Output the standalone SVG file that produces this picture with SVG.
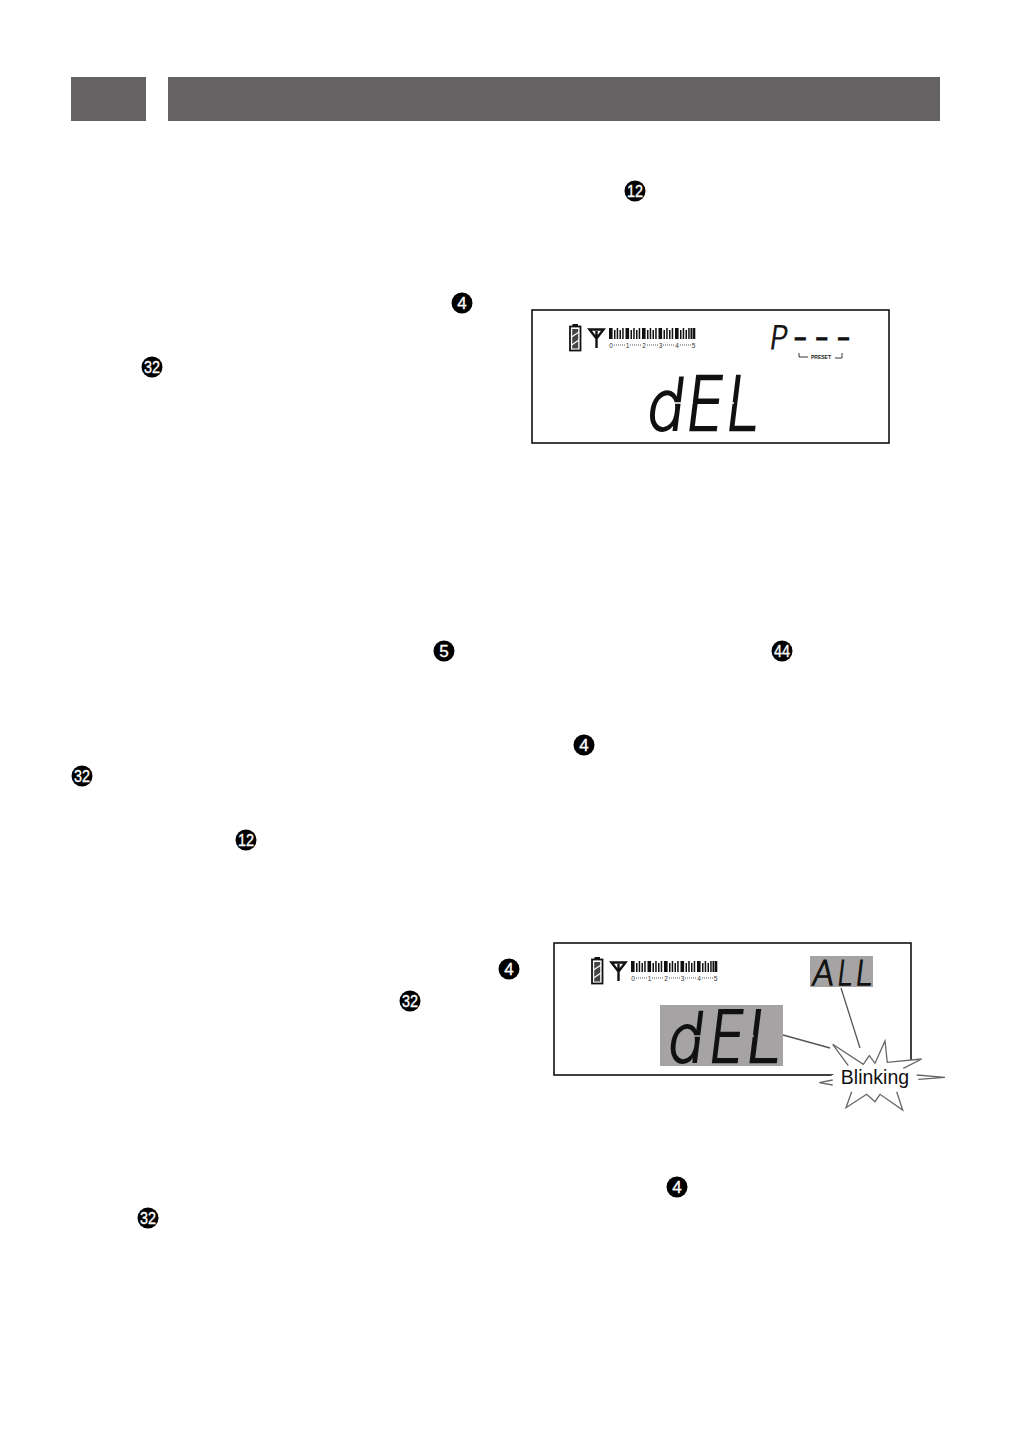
<svg xmlns="http://www.w3.org/2000/svg" width="1009" height="1440" viewBox="0 0 1009 1440">
<style>
.bar{fill:#656263}
.num circle{fill:#111}
.num text{font:17px "Liberation Sans",Arial,sans-serif;fill:#fff;stroke:#fff;stroke-width:.35;text-anchor:middle}
.frame{fill:#fff;stroke:#111;stroke-width:1.6}
.gray{fill:#a5a3a3}
.lcd{font-family:"DejaVu Sans",sans-serif;font-weight:200;fill:#111;stroke:#111}
.sc{font:6.5px "Liberation Sans",Arial,sans-serif;fill:#333;text-anchor:middle}
.dots{stroke:#333;stroke-width:.8;stroke-dasharray:1 1;fill:none}
.lead{stroke:#555;stroke-width:1.3;fill:none}
.burst{stroke:#666;stroke-width:1.3;fill:none}
</style>
<defs>
<circle id="c" r="10.5"/>
<g id="meter5"><rect x="0" width="3.600" height="11"/><rect x="5" y="2" width="1.500" height="9"/><rect x="7.700" width="1.500" height="11"/><rect x="10.500" y="2" width="1.500" height="9"/><rect x="13.200" width="1.500" height="11"/></g>
<g id="status">
<rect x="570" y="326.500" width="10.500" height="24" fill="#fff" stroke="#111" stroke-width="1.800"/>
<rect x="572.500" y="324" width="5.500" height="2" fill="#111"/>
<rect x="572.200" y="329" width="6" height="19.500" fill="#444"/>
<path d="M571.500 337l7.500-5M571.500 345l7.500-5" stroke="#fff" stroke-width="1.200"/>
<path d="M589.500 329.500h14l-7 9zM596.500 331v17" fill="#fff" stroke="#111" stroke-width="2.400"/>
<g fill="#111">
<use href="#meter5" x="609" y="328"/><use href="#meter5" x="625.500" y="328"/><use href="#meter5" x="642" y="328"/><use href="#meter5" x="658.500" y="328"/><use href="#meter5" x="675" y="328"/>
<rect x="690.500" y="328" width="1.500" height="11"/><rect x="692.500" y="328" width="2.800" height="11"/>
</g>
<path class="dots" d="M614 345h11M630 345h11M647 345h11M663 345h11M680 345h11"/>
<text class="sc" x="611" y="347.500">0</text><text class="sc" x="627.500" y="347.500">1</text><text class="sc" x="644" y="347.500">2</text><text class="sc" x="660.500" y="347.500">3</text><text class="sc" x="677" y="347.500">4</text><text class="sc" x="693.500" y="347.500">5</text>
</g>
</defs>

<g id="header"><rect class="bar" x="71" y="77" width="75" height="44"/><rect class="bar" x="168" y="77" width="772" height="44"/></g>

<g id="refs" class="num">
<g id="ref-12a" transform="translate(635,191)"><use href="#c"/><text y="6" textLength="16" lengthAdjust="spacingAndGlyphs">12</text></g>
<g id="ref-4a" transform="translate(462,303)"><use href="#c"/><text y="6">4</text></g>
<g id="ref-32a" transform="translate(152,367)"><use href="#c"/><text y="6" textLength="16" lengthAdjust="spacingAndGlyphs">32</text></g>
<g id="ref-5" transform="translate(444,651)"><use href="#c"/><text y="6">5</text></g>
<g id="ref-44" transform="translate(782,651)"><use href="#c"/><text y="6" textLength="16" lengthAdjust="spacingAndGlyphs">44</text></g>
<g id="ref-4b" transform="translate(584,745)"><use href="#c"/><text y="6">4</text></g>
<g id="ref-32b" transform="translate(82,776)"><use href="#c"/><text y="6" textLength="16" lengthAdjust="spacingAndGlyphs">32</text></g>
<g id="ref-12b" transform="translate(246,840)"><use href="#c"/><text y="6" textLength="16" lengthAdjust="spacingAndGlyphs">12</text></g>
<g id="ref-4c" transform="translate(509,969)"><use href="#c"/><text y="6">4</text></g>
<g id="ref-32c" transform="translate(410,1001)"><use href="#c"/><text y="6" textLength="16" lengthAdjust="spacingAndGlyphs">32</text></g>
<g id="ref-4d" transform="translate(677,1187)"><use href="#c"/><text y="6">4</text></g>
<g id="ref-32d" transform="translate(148,1218)"><use href="#c"/><text y="6" textLength="16" lengthAdjust="spacingAndGlyphs">32</text></g>
</g>

<g id="display-1">
<rect class="frame" x="532" y="310" width="357" height="133"/>
<use href="#status"/>
<text transform="translate(768,349) skewX(-8) scale(.95,1)" class="lcd" font-size="32" stroke-width="1.100">P</text>
<text transform="translate(793.500,346.500) scale(1.350,1)" x="0 16 32" font-family="Liberation Sans" font-size="30" fill="#111" stroke="#111" stroke-width="1">---</text>
<path d="M799 353v4h9M835 358h7v-5" fill="none" stroke="#222" stroke-width=".9"/>
<text x="821" y="359" font-family="Liberation Sans" font-size="5" font-weight="700" text-anchor="middle" fill="#222">PRESET</text>
<g font-size="74" class="lcd" stroke-width="2.400">
<text transform="translate(644,430) skewX(-7) scale(.84,.93)">d</text>
<text transform="translate(683,430) skewX(-7) scale(.82,1)">E</text>
<text transform="translate(723,430) skewX(-7) scale(.8,1)">L</text>
</g>
<path d="M672 403h14M687 403h6M724 403h10" stroke="#fff" stroke-width="1.300"/>
</g>

<g id="display-2">
<rect class="frame" x="554" y="943" width="357" height="132"/>
<g transform="translate(22,633)"><use href="#status"/></g>
<rect class="gray" x="810" y="956" width="63" height="31"/>
<rect class="gray" x="660" y="1005" width="123" height="61"/>
<g font-size="34" class="lcd" stroke-width="1.300">
<text transform="translate(811,985) skewX(-7) scale(.95,1)">A</text>
<text transform="translate(836,985) skewX(-7) scale(.8,1)">L</text>
<text transform="translate(854,985) skewX(-7) scale(.9,1)">L</text>
</g>
<g font-size="71" class="lcd" stroke-width="2.400">
<text transform="translate(665,1062) skewX(-7) scale(.84,.93)">d</text>
<text transform="translate(706,1062) skewX(-7) scale(.8,1)">E</text>
<text transform="translate(743,1062) skewX(-7) scale(.88,1)">L</text>
</g>
<path d="M694 1036h14M744 1036h10" stroke="#a5a3a3" stroke-width="1.300"/>
</g>

<g id="connectors">
<path class="lead" d="M783 1035L830 1048M841 988L860 1048"/>
</g>

<g id="blinking">
<polygon points="832.700,1044.300 863.300,1064.300 869.300,1055.700 875,1063.300 885,1041 887.300,1062.300 921.700,1059 918,1082 946,1078 902.700,1110 875,1101.700 846,1107.700 819.300,1082.700 848.300,1065.700" fill="#fff"/>
<path class="burst" d="M848.300 1065.700L832.700 1044.300L863.300 1064.300L869.300 1055.700L875 1063.300L885 1041L887.300 1062.300L921.700 1059L903.300 1068.300M916.700 1075L945 1077.300L918.300 1079.300M832.700 1080L819.300 1082.700L832.700 1085M851.700 1091.700L846 1107.700L866.700 1094.300L875 1101.700L880 1094.300L902.700 1110L896.700 1091.700"/>
<text x="875" y="1084" font-family="Liberation Sans" font-size="19.500" text-anchor="middle" fill="#111">Blinking</text>
</g>
</svg>
